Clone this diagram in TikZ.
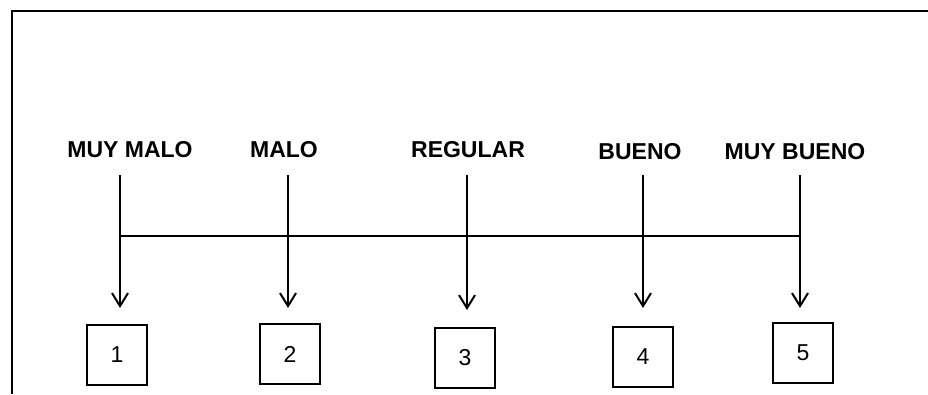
\documentclass[tikz,border=0pt]{standalone}
\usepackage{fontspec}
\setmainfont{Liberation Sans}
\usetikzlibrary{arrows.meta}
\begin{document}
\begin{tikzpicture}[x=1pt,y=-1pt,
  frame/.style={line width=2pt},
  rating/.style={font=\fontsize{23}{25}\selectfont\bfseries, inner sep=0pt},
  scorebox/.style={draw, line width=2pt, minimum width=60pt, minimum height=60pt,
    inner sep=0pt, font=\fontsize{23}{25}\selectfont},
  pointer/.style={line width=2pt, -{Straight Barb[length=13pt,width=16pt,line width=2pt]}},
  axis/.style={line width=2pt}]
\useasboundingbox (0,0) rectangle (928,394);
% outer frame (top and left sides)
\draw[frame] (12,394) -- (12,11) -- (928,11);
% rating labels
\node[rating] (l1) at (130,150) {MUY MALO};
\node[rating] (l2) at (284,150) {MALO};
\node[rating] (l3) at (468,150) {REGULAR};
\node[rating] (l4) at (640,152) {BUENO};
\node[rating] (l5) at (795,152) {MUY BUENO};
% score boxes
\node[scorebox] (b1) at (117,355) {1};
\node[scorebox] (b2) at (290,354) {2};
\node[scorebox] (b3) at (465,358) {3};
\node[scorebox] (b4) at (643,357) {4};
\node[scorebox] (b5) at (803,353) {5};
% arrow ends
\coordinate (t1) at (120,175); \coordinate (e1) at (120,308);
\coordinate (t2) at (288,175); \coordinate (e2) at (288,308);
\coordinate (t3) at (467,175); \coordinate (e3) at (467,310);
\coordinate (t4) at (643,175); \coordinate (e4) at (643,308);
\coordinate (t5) at (800,175); \coordinate (e5) at (800,308);
% horizontal scale line
\coordinate (h1) at (120,236);
\coordinate (h5) at (800,236);
\draw[axis] (h1) -- (h5);
\foreach \i in {1,...,5} {
  \draw[pointer] (t\i) -- (e\i);
}
\end{tikzpicture}
\end{document}
